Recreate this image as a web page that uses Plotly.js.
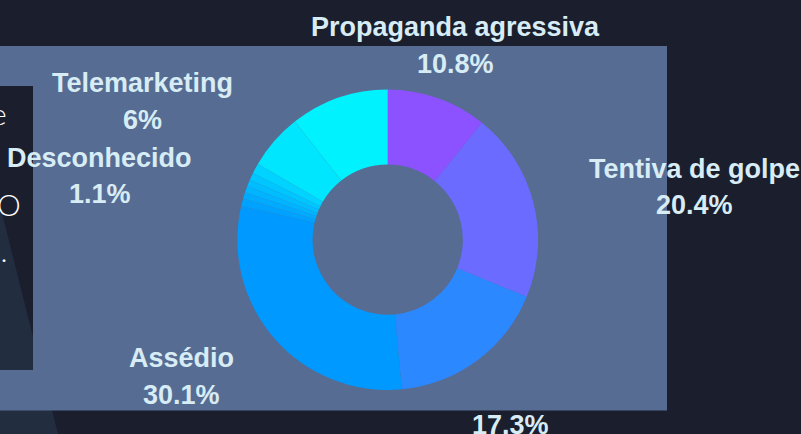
<!DOCTYPE html>
<html>
<head>
<meta charset="utf-8">
<script src="https://cdn.plot.ly/plotly-3.0.1.min.js"></script>
<style>
  html, body { margin: 0; padding: 0; background: #1b1e2d; }
  #chart { width: 801px; height: 434px; }
</style>
</head>
<body>
<div id="chart"></div>
<script>
// ---- data ----
const labels = ['Propaganda agressiva', 'Tentiva de golpe', '', 'Assédio',
                'Outro 1', 'Outro 2', 'Outro 3', 'Outro 4', 'Outro 5',
                'Desconhecido', 'Telemarketing', 'Outro 6'];
const values = [10.8, 20.4, 17.3, 30.1, 0.8, 0.7, 0.7, 0.7, 0.8, 1.1, 6.0, 10.6];
const labelShown = [true, true, true, true, false, false, false, false, false, true, true, false];
const sliceColors = ['#8c52ff', '#6b6cff', '#2b88ff', '#0099ff',
                     '#00a2ff', '#00abff', '#00b4ff', '#00bdff', '#00c6ff',
                     '#00d3ff', '#00e6ff', '#00f2ff'];
const sideTexts = ['e', 'O', 'n.'];

// ---- layout helpers (pixel -> paper) ----
const W = 801, H = 434;
const px = x => x / W;
const py = y => 1 - y / H;

const cx = 387.7, cy = 239.7, R = 150.3;

// label placement: centre x and the two text baselines (pixels); null = no label
const labelPos = [[456, 36, 73.3], [694, 178, 214], [510.5, 397, 434.5], [181, 367, 404],
                  null, null, null, null, null,
                  [99.5, 166.7, 203], [142.7, 92, 129], null];

const total = values.reduce((a, b) => a + b, 0);
function fmtPct(v) {
  let s = (100 * v / total).toPrecision(3);
  if (s.indexOf('.') >= 0) s = s.replace(/0+$/, '').replace(/\.$/, '');
  return s + '%';
}

const trace = {
  type: 'pie',
  labels: labels.map((l, i) => l || ('slice ' + i)),
  values: values,
  sort: false,
  direction: 'clockwise',
  rotation: 0,
  hole: 0.5,
  domain: { x: [px(cx - R), px(cx + R)], y: [py(cy + R), py(cy - R)] },
  marker: { colors: sliceColors, line: { width: 0 } },
  textinfo: 'none',
  hoverinfo: 'label+percent'
};

const shapes = [
  { type: 'path', xref: 'paper', yref: 'paper', layer: 'below', line: { width: 0 },
    fillcolor: '#222d40',
    path: `M ${px(0)} ${py(205)} L ${px(58)} ${py(434)} L ${px(0)} ${py(434)} Z` },
  { type: 'rect', xref: 'paper', yref: 'paper', layer: 'below', line: { width: 0 },
    fillcolor: '#566c93', x0: px(0), x1: px(667), y0: py(410.5), y1: py(46) },
  { type: 'rect', xref: 'paper', yref: 'paper', layer: 'below', line: { width: 0 },
    fillcolor: '#1b1e2d', x0: px(0), x1: px(33), y0: py(370), y1: py(86) },
  { type: 'path', xref: 'paper', yref: 'paper', layer: 'below', line: { width: 0 },
    fillcolor: '#222d40',
    path: `M ${px(0)} ${py(205)} L ${px(33)} ${py(337)} L ${px(33)} ${py(370)} L ${px(0)} ${py(370)} Z` }
];

const FS = 27;
const labelFont = { family: 'Liberation Sans, Arial, sans-serif', size: FS, color: '#d7ecf5', weight: 'bold' };
const annotations = [];
function addLine(text, x, baseline) {
  annotations.push({
    text: text, xref: 'paper', yref: 'paper',
    x: px(x), y: py(baseline - 0.34 * FS),
    xanchor: 'center', yanchor: 'middle', align: 'center',
    showarrow: false, font: labelFont
  });
}
labels.forEach((l, i) => {
  if (!labelShown[i] || !labelPos[i]) return;
  const [x, b1, b2] = labelPos[i];
  if (l) addLine(l, x, b1);
  addLine(fmtPct(values[i]), x, b2);
});

const sideY = [113, 204, 250];
const sideX = [9, 23, 10];
sideTexts.forEach((t, i) => annotations.push({
  text: t, xref: 'paper', yref: 'paper', x: px(sideX[i]), y: py(sideY[i]),
  xanchor: 'right', yanchor: 'middle', showarrow: false,
  font: { family: 'Lato, sans-serif', size: 30, color: '#ffffff', weight: 300 }
}));

const layout = {
  width: W, height: H,
  margin: { l: 0, r: 0, t: 0, b: 0 },
  paper_bgcolor: '#1b1e2d',
  showlegend: false,
  shapes: shapes,
  annotations: annotations
};

Plotly.newPlot('chart', [trace], layout, { displayModeBar: false, staticPlot: true });
</script>
</body>
</html>
